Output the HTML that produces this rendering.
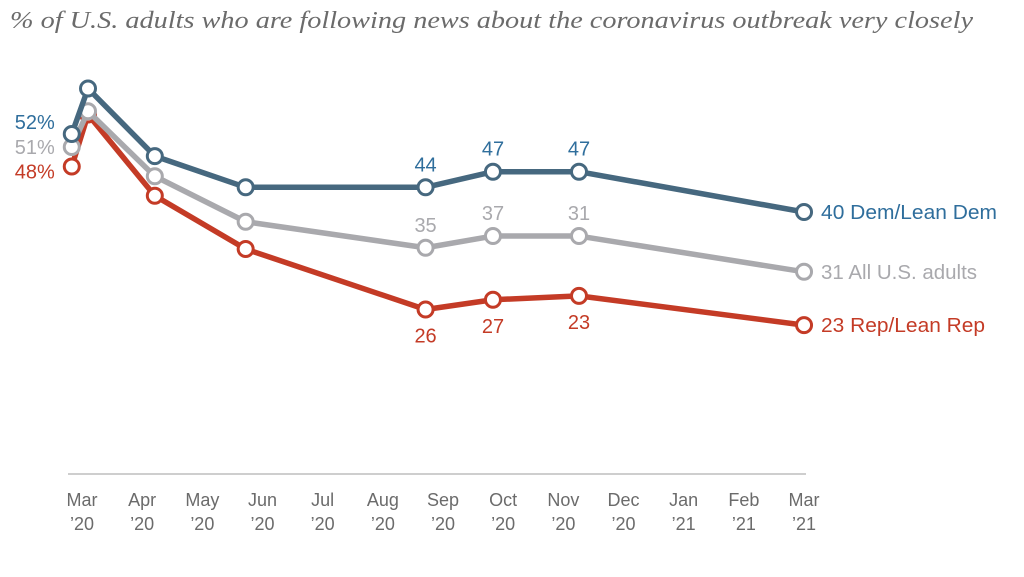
<!DOCTYPE html>
<html><head><meta charset="utf-8"><style>
html,body{margin:0;padding:0;background:#fff;}
svg{display:block;}
</style></head><body>
<svg id="chart" width="1024" height="577" viewBox="0 0 1024 577" xmlns="http://www.w3.org/2000/svg" font-family="'Liberation Sans', sans-serif">
<text x="10" y="28" font-family="'Liberation Serif', serif" font-style="italic" font-size="24" fill="#6b6b6b" textLength="963" lengthAdjust="spacingAndGlyphs">% of U.S. adults who are following news about the coronavirus outbreak very closely</text>
<line x1="68" y1="474" x2="806" y2="474" stroke="#bdbdbd" stroke-width="1.5"/>
<g id="xticks"></g>
<g id="series"></g>
</svg>
<script>
// month offsets from Mar 2020 (survey dates)
const surveyMonths = [-0.17, 0.1, 1.21, 2.72, 5.71, 6.83, 8.26, 12];
const demValues = [52, 59, 48.6, 43.8, 43.8, 46.2, 46.2, 40];
const allValues = [50, 55.5, 45.5, 38.5, 34.5, 36.3, 36.3, 30.8];
const repValues = [47, 55, 42.5, 34.3, 25, 26.5, 27.1, 22.6];
const demLabels = ["52%", "", "", "", "44", "47", "47", "40 Dem/Lean Dem"];
const allLabels = ["51%", "", "", "", "35", "37", "31", "31 All U.S. adults"];
const repLabels = ["48%", "", "", "", "26", "27", "23", "23 Rep/Lean Rep"];
const tickMonths = ["Mar","Apr","May","Jun","Jul","Aug","Sep","Oct","Nov","Dec","Jan","Feb","Mar"];
const tickYears = ["\u201920","\u201920","\u201920","\u201920","\u201920","\u201920","\u201920","\u201920","\u201920","\u201920","\u201921","\u201921","\u201921"];
const endLabelWidths = {dem: 176, all: 156, rep: 164};

const NS = "http://www.w3.org/2000/svg";
const xS = m => 82 + m * 60.17;
const yS = v => 472 - v * 6.5;

const tg = document.getElementById('xticks');
tickMonths.forEach((t, i) => {
  const a = document.createElementNS(NS, 'text');
  
  
  a.setAttribute('x', xS(i)); a.setAttribute('y', 506);
  a.setAttribute('text-anchor', 'middle'); a.setAttribute('font-size', '18'); a.setAttribute('fill', '#6b6b6b');
  a.textContent = t; tg.appendChild(a);
  const b = document.createElementNS(NS, 'text');
  
  
  b.setAttribute('x', xS(i)); b.setAttribute('y', 530);
  b.setAttribute('text-anchor', 'middle'); b.setAttribute('font-size', '18'); b.setAttribute('fill', '#6b6b6b');
  b.textContent = tickYears[i]; tg.appendChild(b);
});

const sg = document.getElementById('series');
function drawSeries(name, vals, labels, lineColor, textColor, below) {
  const g = document.createElementNS(NS, 'g');
  
  
  const p = document.createElementNS(NS, 'polyline');
  
  
  p.setAttribute('points', vals.map((v, i) => xS(surveyMonths[i]) + ',' + yS(v)).join(' '));
  p.setAttribute('fill', 'none'); p.setAttribute('stroke', lineColor);
  p.setAttribute('stroke-width', '5.5'); p.setAttribute('stroke-linejoin', 'round');
  g.appendChild(p);
  vals.forEach((v, i) => {
    const c = document.createElementNS(NS, 'circle');
    
    
    c.setAttribute('cx', xS(surveyMonths[i])); c.setAttribute('cy', yS(v)); c.setAttribute('r', '7.5');
    c.setAttribute('fill', '#fff'); c.setAttribute('stroke', lineColor); c.setAttribute('stroke-width', '3');
    g.appendChild(c);
    const lab = labels[i];
    if (!lab) return;
    const t = document.createElementNS(NS, 'text');
    
    
    t.setAttribute('font-size', '20'); t.setAttribute('fill', textColor);
    const x = xS(surveyMonths[i]), y = yS(v);
    if (i === 0) { t.setAttribute('x', x - 17); t.setAttribute('y', y + (name==='dem'? -5 : name==='all' ? 7 : 12)); t.setAttribute('text-anchor', 'end'); }
    else if (i === vals.length - 1) { t.setAttribute('x', x + 17); t.setAttribute('y', y + 7); t.setAttribute('textLength', endLabelWidths[name]); t.setAttribute('lengthAdjust', 'spacingAndGlyphs'); }
    else { t.setAttribute('x', x); t.setAttribute('y', below ? y + 33 : y - 16); t.setAttribute('text-anchor', 'middle'); }
    t.textContent = lab; g.appendChild(t);
  });
  sg.appendChild(g);
}
drawSeries('rep', repValues, repLabels, '#c43b26', '#c43b26', true);
drawSeries('all', allValues, allLabels, '#a9a9ad', '#a9a9ad', false);
drawSeries('dem', demValues, demLabels, '#46687f', '#2f6e9c', false);
</script>
</body></html>
